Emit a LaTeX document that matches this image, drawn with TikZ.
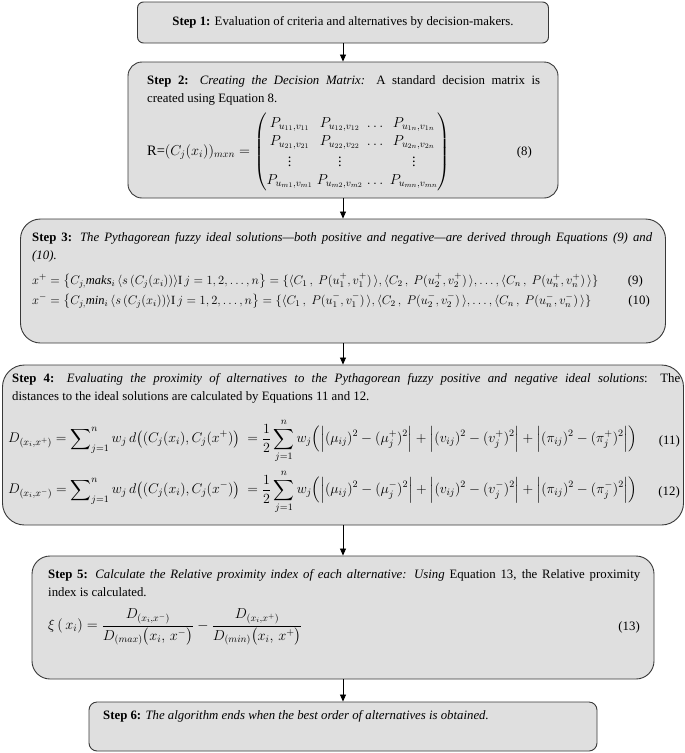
\documentclass[tikz,border=0pt]{standalone}
\usepackage{fix-cm}
\usepackage{amsmath}
\usepackage{fontspec}
\setmainfont{Liberation Serif}
\usepackage{tikz}
\usetikzlibrary{arrows.meta}
\definecolor{boxgray}{HTML}{DFDFDF}
\definecolor{edgegray}{HTML}{383838}

\begin{document}
\begin{tikzpicture}[x=1pt, y=-1pt, font=\fontsize{12.8}{18}\selectfont,
  stepbox/.style={draw=edgegray, fill=boxgray, line width=0.9pt, inner sep=0pt},
  steptext/.style={anchor=north west, inner sep=0pt, align=justify},
  eqn/.style={anchor=west, inner sep=0pt, font=\fontsize{14.4}{18}\selectfont},
  eqno/.style={anchor=east, inner sep=0pt},
  flow/.style={draw=black, line width=0.8pt, -{Triangle[length=7pt, width=6pt]}}]
  \useasboundingbox (0,0) rectangle (685,753);
  % step boxes
  \node[stepbox, rounded corners=6pt, minimum width=411pt, minimum height=41pt]
    (s1) at (343,22.5) {\textbf{Step 1:} Evaluation of criteria and alternatives by decision-makers.};
  \node[stepbox, rounded corners=14pt, minimum width=430pt, minimum height=136pt] (s2) at (343,130) {};
  \node[stepbox, rounded corners=20pt, minimum width=645pt, minimum height=124pt] (s3) at (343,281) {};
  \node[stepbox, rounded corners=22pt, minimum width=681pt, minimum height=160pt] (s4) at (343,445) {};
  \node[stepbox, rounded corners=18pt, minimum width=622pt, minimum height=123pt] (s5) at (343,617.5) {};
  \node[stepbox, rounded corners=8pt, minimum width=508pt, minimum height=49pt] (s6) at (343,726.5) {};
  % step 2
  \node[steptext, text width=393pt] (t2) at (147,75)
    {\textbf{Step 2:} \textit{Creating the Decision Matrix:} A standard decision matrix is\linebreak created using Equation 8.};
  \node[eqn] (e8) at (147,152) {R=$(C_j(x_i))_{mxn} = {\setlength\arraycolsep{2pt}
    \begin{pmatrix}
      P_{u_{11},v_{11}} & P_{u_{12},v_{12}} & \dots & P_{u_{1n},v_{1n}} \\
      P_{u_{21},v_{21}} & P_{u_{22},v_{22}} & \dots & P_{u_{2n},v_{2n}} \\
      \vdots & \vdots & & \vdots \\
      P_{u_{m1},v_{m1}} & P_{u_{m2},v_{m2}} & \dots & P_{u_{mn},v_{mn}}
    \end{pmatrix}}$};
  \node[eqno] (n8) at (532,152) {(8)};
  % step 3
  \node[steptext, text width=620pt] (t3) at (32,232)
    {\textbf{Step 3:} \textit{The Pythagorean fuzzy ideal solutions—both positive and negative—are derived through Equations (9) and\linebreak (10).}};
  \node[eqn, font=\fontsize{12.5}{18}\selectfont] (e9) at (32,281) {$x^{+} = \big\{C_{j,}\mathit{maks}_i\,\langle s\,(C_j(x_i))\rangle\mathrm{I}\,j = 1,2,\dots,n\big\}
    = \{\langle C_1\,,\ P(u_1^{+},v_1^{+})\,\rangle, \langle C_2\,,\ P(u_2^{+},v_2^{+})\,\rangle, \dots, \langle C_n\,,\ P(u_n^{+},v_n^{+})\,\rangle\}$};
  \node[eqno] (n9) at (643,281) {(9)};
  \node[eqn, font=\fontsize{12.5}{18}\selectfont] (e10) at (32,301) {$x^{-} = \big\{C_{j,}\mathit{min}_i\,\langle s\,(C_j(x_i))\rangle\mathrm{I}\,j = 1,2,\dots,n\big\}
    = \{\langle C_1\,,\ P(u_1^{-},v_1^{-})\,\rangle, \langle C_2\,,\ P(u_2^{-},v_2^{-})\,\rangle, \dots, \langle C_n\,,\ P(u_n^{-},v_n^{-})\,\rangle\}$};
  \node[eqno] (n10) at (650,301) {(10)};
  % step 4
  \node[steptext, text width=668pt] (t4) at (12,373)
    {\textbf{Step 4:} \textit{Evaluating the proximity of alternatives to the Pythagorean fuzzy positive and negative ideal solutions}: The\linebreak distances to the ideal solutions are calculated by Equations 11 and 12.};
  \node[eqn, font=\fontsize{14}{18}\selectfont] (e11) at (8,441) {$\displaystyle D_{(x_i,x^{+})} = \sum\nolimits_{j=1}^{n} w_j\, d\big((C_j(x_i),C_j(x^{+})\big) \ = \frac{1}{2}\sum_{j=1}^{n} w_j
    \Big(\Big|(\mu_{ij})^2-(\mu_j^{+})^2\Big| + \Big|(v_{ij})^2-(v_j^{+})^2\Big| + \Big|(\pi_{ij})^2-(\pi_j^{+})^2\Big|\Big)$};
  \node[eqno] (n11) at (680,441) {(11)};
  \node[eqn, font=\fontsize{14}{18}\selectfont] (e12) at (8,492) {$\displaystyle D_{(x_i,x^{-})} = \sum\nolimits_{j=1}^{n} w_j\, d\big((C_j(x_i),C_j(x^{-})\big) \ = \frac{1}{2}\sum_{j=1}^{n} w_j
    \Big(\Big|(\mu_{ij})^2-(\mu_j^{-})^2\Big| + \Big|(v_{ij})^2-(v_j^{-})^2\Big| + \Big|(\pi_{ij})^2-(\pi_j^{-})^2\Big|\Big)$};
  \node[eqno] (n12) at (680,492) {(12)};
  % step 5
  \node[steptext, text width=592pt] (t5) at (48,569)
    {\textbf{Step 5:} \textit{Calculate the Relative proximity index of each alternative: Using} Equation 13, the Relative proximity\linebreak index is calculated.};
  \node[eqn] (e13) at (48,627) {$\displaystyle \xi\,(\,x_i) = \frac{D_{(x_i,x^{-})}}{D_{(max)}\big(x_i,\,x^{-}\big)} - \frac{D_{(x_i,x^{+})}}{D_{(min)}\big(x_i,\,x^{+}\big)}$};
  \node[eqno] (n13) at (640,627) {(13)};
  % step 6
  \node[steptext] (t6) at (103,710)
    {\textbf{Step 6:} \textit{The algorithm ends when the best order of alternatives is obtained.}};
  % connectors
  \foreach \a/\b in {s1/s2,s2/s3,s3/s4,s4/s5,s5/s6}{
    \draw[flow] (\a.south) -- (\b.north);}
\end{tikzpicture}
\end{document}
